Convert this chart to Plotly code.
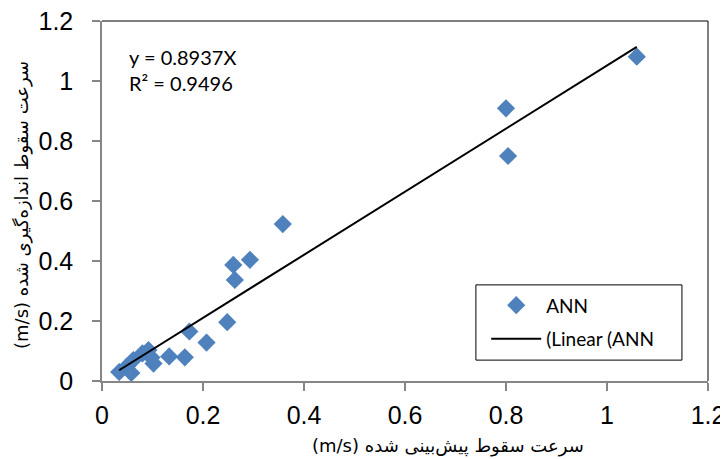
import plotly.graph_objects as go

# Data
predicted = [0.034, 0.050, 0.058, 0.062, 0.080, 0.092, 0.098, 0.102, 0.133, 0.164,
             0.173, 0.207, 0.248, 0.260, 0.263, 0.293, 0.358, 0.800, 0.804, 1.059]
measured = [0.030, 0.050, 0.027, 0.070, 0.092, 0.103, 0.078, 0.058, 0.082, 0.079,
            0.165, 0.128, 0.196, 0.387, 0.337, 0.404, 0.523, 0.909, 0.750, 1.081]
tick_vals = [0, 0.2, 0.4, 0.6, 0.8, 1, 1.2]
tick_text = ["0", "0.2", "0.4", "0.6", "0.8", "1", "1.2"]
series_name = "ANN"
trend_name = "(Linear (ANN"
equation_text = "y = 0.8937X<br>R² = 0.9496"
x_title = "(m/s) سرعت سقوط پیش‌بینی شده"
y_title = "(m/s) سرعت سقوط اندازه‌گیری شده"

# Linear trendline through the origin (least squares), drawn over the data range
slope = sum(a * b for a, b in zip(predicted, measured)) / sum(a * a for a in predicted)
trend_x = [min(predicted), max(predicted)]
trend_y = [slope * v for v in trend_x]

blue = "#4F81BD"
axis_gray = "#868686"

fig = go.Figure()
fig.add_trace(go.Scatter(
    x=predicted, y=measured, mode="markers", name=series_name, legendgroup="a",
    marker=dict(symbol="diamond", size=14, color=blue, line=dict(width=0)),
))
fig.add_trace(go.Scatter(
    x=trend_x, y=trend_y, mode="lines", name=trend_name, legendgroup="b",
    line=dict(color="black", width=2),
))

fig.update_layout(
    width=720, height=451,
    margin=dict(l=94, r=20, t=13, b=78, autoexpand=False),
    paper_bgcolor="white", plot_bgcolor="white",
    showlegend=True,
    legend=dict(
        x=0.634, y=0.263, xanchor="left", yanchor="top",
        borderwidth=0, bgcolor="rgba(0,0,0,0)",
        font=dict(family="Lato", size=19, color="black"),
        itemwidth=50, tracegroupgap=6,
    ),
    font=dict(family="Liberation Sans", color="black"),
)
axis_style = dict(
    range=[0, 1.2], tickvals=tick_vals, ticktext=tick_text,
    showgrid=False, zeroline=False, showline=True, linecolor=axis_gray, linewidth=1.5,
    ticks="outside", ticklen=8, tickcolor=axis_gray, tickwidth=1.5,
    ticklabeloverflow="allow", automargin=False,
    tickfont=dict(family="Liberation Sans", size=25, color="black"),
)
fig.update_xaxes(**axis_style, ticklabelstandoff=3)
fig.update_yaxes(**axis_style, ticklabelstandoff=14)

# Plot-area border on top and right
fig.add_shape(type="line", xref="paper", yref="paper", x0=0, x1=1, y0=1, y1=1,
              line=dict(color="black", width=1), layer="below")
fig.add_shape(type="line", xref="paper", yref="paper", x0=1, x1=1, y0=0, y1=1,
              line=dict(color="black", width=1), layer="below")
# Legend frame
fig.add_shape(type="rect", xref="paper", yref="paper", x0=0.617, x1=0.957, y0=0.058, y1=0.267,
              line=dict(color="black", width=1), fillcolor="white", layer="below")

fig.add_annotation(
    text=equation_text, xref="paper", yref="paper", x=0.041, y=0.8625,
    xanchor="left", yanchor="middle", showarrow=False, align="left",
    font=dict(family="Lato", size=20, color="black"),
)
fig.add_annotation(
    text=x_title, xref="paper", yref="paper", x=0.571, y=-0.18,
    xanchor="center", yanchor="middle", showarrow=False,
    font=dict(family="DejaVu Sans", size=18, color="black"),
)
fig.add_annotation(
    text=y_title, xref="paper", yref="paper", x=-0.132, y=0.489,
    xanchor="center", yanchor="middle", showarrow=False, textangle=-90,
    font=dict(family="DejaVu Sans", size=18, color="black"),
)

fig.write_html("out.html")
